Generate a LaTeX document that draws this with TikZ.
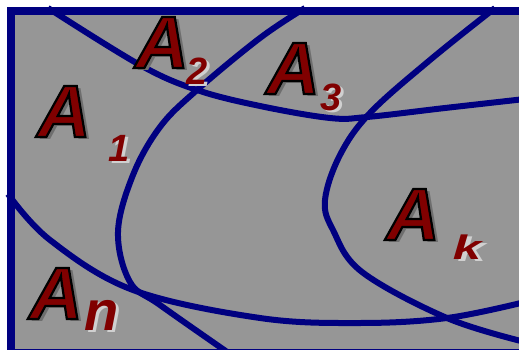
\documentclass[tikz,border=0pt]{standalone}
\usepackage{fontspec}
\setmainfont{Liberation Sans}

\definecolor{setblue}{HTML}{000080}
\definecolor{setgray}{HTML}{969696}
\definecolor{setred}{HTML}{800000}
\definecolor{darkshade}{HTML}{6E6E6E}
\definecolor{lightshade}{HTML}{D0D0D0}

\tikzset{
    setline/.style={line width=6pt, setblue},
    bigA/.style={inner sep=0pt, font=\fontsize{74}{74}\selectfont\bfseries\itshape},
    subl/.style={inner sep=0pt, text=setred, font=\fontsize{38}{38}\selectfont\bfseries\itshape},
}

% outlined letter with its dark shade
\newcommand{\shadedA}{%
    \rlap{\kern4pt\raisebox{-3pt}{\color{darkshade}A}}%
    {\color{setred}\special{pdf:literal direct q 2 Tr 2.2 w 0 G}A\special{pdf:literal direct Q}}}
% subscript with light shade
\newcommand{\shadedsub}[1]{%
    \rlap{\kern3pt\raisebox{-2pt}{\color{lightshade}#1}}#1}

\begin{document}
\begin{tikzpicture}[x=1pt,y=-1pt]

\useasboundingbox (0,0) rectangle (519,350);
\clip (0,0) rectangle (519,350);

% Universe
\fill[setgray] (11,11) rectangle (530,353);

% Set boundaries
\draw[setline] plot[smooth, tension=0.6] coordinates
    {(48,8) (140,65) (197,90) (260,106) (330,118) (367,117) (445,108) (525,99)};
\draw[setline] plot[smooth, tension=0.6] coordinates
    {(305,8) (260,38) (197,90) (160,127) (133,175) (118,232) (130,282) (160,305) (230,354)};
\draw[setline] plot[smooth, tension=0.6] coordinates
    {(495,8) (430,60) (370,113) (340,155) (325,200) (333,230) (362,272) (447,318) (525,342)};
\draw[setline] plot[smooth, tension=0.6] coordinates
    {(8,194) (50,240) (133,290) (260,318) (360,323) (447,318) (525,302)};

% Frame
\draw[setblue, line width=8pt] (11,11) rectangle (530,353);

% Labels
\node[bigA] (a1) at (64,113) {\shadedA};
\node[subl] (s1) at (119,149) {\shadedsub{1}};

\node[bigA] (a2) at (162,44) {\shadedA};
\node[subl] (s2) at (197,72) {\shadedsub{2}};

\node[bigA] (a3) at (293,70) {\shadedA};
\node[subl] (s3) at (331,98) {\shadedsub{3}};

\node[bigA] (ak) at (413,216) {\shadedA};
\node[subl, xscale=1.5, font=\fontsize{34}{34}\selectfont\bfseries\itshape] (sk) at (467,248) {\shadedsub{k}};

\node[bigA] (an) at (56,295) {\shadedA};
\node[subl, font=\fontsize{56}{56}\selectfont\bfseries\itshape] (sn) at (102,316) {\shadedsub{n}};

\end{tikzpicture}
\end{document}
